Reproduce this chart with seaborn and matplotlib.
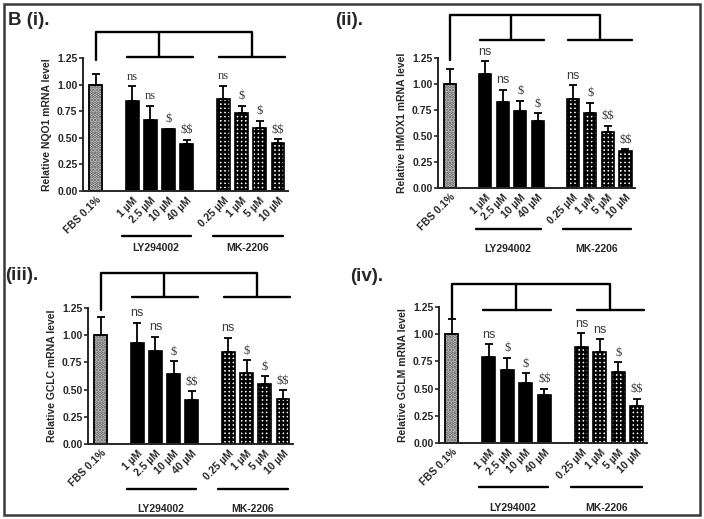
import pandas as pd
import matplotlib.pyplot as plt
from matplotlib.patches import Rectangle
from matplotlib.transforms import blended_transform_factory
import seaborn as sns

# x slots (the gap slots keep the space between the groups)
conditions = ["FBS", "gap1", "LY1", "LY2.5", "LY10", "LY40", "gap2", "MK0.25", "MK1", "MK5", "MK10"]
tick_labels = ["FBS 0.1%", "", "1 µM", "2.5 µM", "10 µM", "40 µM", "", "0.25 µM", "1 µM", "5 µM", "10 µM"]
bar_conditions = ["FBS", "LY1", "LY2.5", "LY10", "LY40", "MK0.25", "MK1", "MK5", "MK10"]
groups = ["FBS", "LY", "LY", "LY", "LY", "MK", "MK", "MK", "MK"]

# panel (i) NQO1
nqo1_mean = [1.00, 0.85, 0.665, 0.58, 0.44, 0.86, 0.73, 0.595, 0.45]
nqo1_err = [0.10, 0.135, 0.135, 0.005, 0.04, 0.13, 0.07, 0.065, 0.035]
nqo1_sig = ["", "ns", "ns", "$", "$$", "ns", "$", "$", "$$"]

# panel (ii) HMOX1
hmox1_mean = [1.00, 1.10, 0.83, 0.74, 0.645, 0.855, 0.72, 0.535, 0.355]
hmox1_err = [0.14, 0.12, 0.115, 0.10, 0.075, 0.135, 0.10, 0.065, 0.015]
hmox1_sig = ["", "ns", "ns", "$", "$", "ns", "$", "$$", "$$"]

# panel (iii) GCLC
gclc_mean = [1.005, 0.93, 0.855, 0.645, 0.40, 0.845, 0.652, 0.555, 0.414]
gclc_err = [0.16, 0.185, 0.13, 0.115, 0.085, 0.13, 0.12, 0.07, 0.08]
gclc_sig = ["", "ns", "ns", "$", "$$", "ns", "$", "$", "$$"]

# panel (iv) GCLM
gclm_mean = [1.005, 0.79, 0.668, 0.548, 0.44, 0.88, 0.837, 0.65, 0.342]
gclm_err = [0.135, 0.12, 0.115, 0.092, 0.06, 0.13, 0.117, 0.095, 0.064]
gclm_sig = ["", "ns", "$", "$", "$$", "ns", "ns", "$", "$$"]

group_colors = {"FBS": "#d6d6d6", "LY": "black", "MK": "white"}

sns.set_style("ticks")
plt.rcParams["font.family"] = ["Liberation Sans", "DejaVu Sans"]
plt.rcParams["hatch.linewidth"] = 1.8

fig = plt.figure(figsize=(7.04, 5.19), dpi=100)

# border around the whole figure
fig.patches.append(Rectangle((0.005, 0.008), 0.99, 0.984, transform=fig.transFigure,
                             fill=False, edgecolor="#3a3a3a", linewidth=1.8))


def draw_panel(rect, gene, means, errs, sigs, ns_serif, brk, label, label_xy):
    ax = fig.add_axes(rect)
    df = pd.DataFrame({"condition": bar_conditions, "value": means, "group": groups})
    sns.barplot(data=df, x="condition", y="value", hue="group", order=conditions,
                hue_order=["FBS", "LY", "MK"], palette=group_colors, width=0.7,
                edgecolor="black", linewidth=1.2, errorbar=None, legend=False, ax=ax)
    for bar in ax.containers[2]:
        bar.set_hatch("++++")
    for bar in ax.containers[0]:
        bar.set_hatch(".....")
        bar.set_edgecolor("#555555")

    xs = [conditions.index(c) for c in bar_conditions]
    ax.errorbar(xs, means, yerr=[[0] * len(errs), errs], fmt="none", ecolor="black",
                elinewidth=1.3, capsize=3, capthick=1.3, clip_on=False)
    # the FBS bar outline drawn black again over its hatch colour
    ax.bar(xs[0], means[0], width=0.7, fill=False, edgecolor="black", linewidth=1.2)

    for x, m, e, s in zip(xs, means, errs, sigs):
        if not s:
            continue
        fam = "Liberation Serif" if (s != "ns" or ns_serif) else "Liberation Sans"
        ax.annotate(s, (x, m + e), xytext=(0, 2.5), textcoords="offset points",
                    ha="center", va="bottom", fontsize=9, color="#3c3c3c", family=fam,
                    parse_math=False)

    ax.set_xlim(-0.7, 10.55)
    ax.set_ylim(0, 1.25)
    ax.set_yticks([0, 0.25, 0.5, 0.75, 1.0, 1.25])
    ax.set_yticklabels(["0.00", "0.25", "0.50", "0.75", "1.00", "1.25"],
                       fontsize=7.5, fontweight="bold")
    ax.set_xticks(range(len(conditions)))
    ax.set_xticklabels(tick_labels, rotation=45, ha="right", rotation_mode="anchor",
                       fontsize=7.5, fontweight="bold")
    ax.tick_params(axis="x", length=0, pad=3)
    ax.tick_params(axis="y", length=3, width=1.2, pad=1)
    ax.set_xlabel("")
    ax.set_ylabel(f"Relative {gene} mRNA level", fontsize=7.5, fontweight="bold", labelpad=4)
    sns.despine(ax=ax)
    for side in ["left", "bottom"]:
        ax.spines[side].set_linewidth(1.4)

    # comparison brackets above the bars
    trans = blended_transform_factory(ax.transData, ax.transAxes)
    top, sub, fbs_end, low, low_txt = brk
    kw = dict(transform=trans, clip_on=False, color="black", linewidth=1.7)
    ax.plot([0, 0, 8.55, 8.55], [fbs_end, top, top, sub], **kw)
    ax.plot([3.45, 3.45], [top, sub], **kw)
    ax.plot([1.7, 5.35], [sub, sub], **kw)
    ax.plot([6.75, 10.4], [sub, sub], **kw)
    # group lines under the tick labels
    ax.plot([1.45, 5.2], [low, low], **kw)
    ax.plot([6.45, 10.3], [low, low], **kw)
    ax.text(3.3, low_txt, "LY294002", transform=trans, ha="center", va="center",
            fontsize=7.5, fontweight="bold")
    ax.text(8.35, low_txt, "MK-2206", transform=trans, ha="center", va="center",
            fontsize=7.5, fontweight="bold")

    fig.text(label_xy[0], label_xy[1], label, fontsize=13.5, fontweight="bold",
             ha="left", va="center")
    return ax


draw_panel([0.1179, 0.632, 0.2912, 0.2563], "NQO1", nqo1_mean, nqo1_err, nqo1_sig, True,
           (1.195, 1.008, 0.985, -0.338, -0.43), "B (i).", (0.011, 0.961))
draw_panel([0.6222, 0.6378, 0.2798, 0.2505], "HMOX1", hmox1_mean, hmox1_err, hmox1_sig, False,
           (1.33, 1.14, 0.985, -0.315, -0.47), "(ii).", (0.476, 0.961))
draw_panel([0.125, 0.1445, 0.2912, 0.262], "GCLC", gclc_mean, gclc_err, gclc_sig, False,
           (1.257, 1.081, 0.985, -0.33, -0.48), "(iii).", (0.007, 0.47))
draw_panel([0.6236, 0.1464, 0.2955, 0.262], "GCLM", gclm_mean, gclm_err, gclm_sig, False,
           (1.169, 0.978, 0.91, -0.32, -0.48), "(iv).", (0.497, 0.467))

fig.savefig("out.png", dpi=100)
